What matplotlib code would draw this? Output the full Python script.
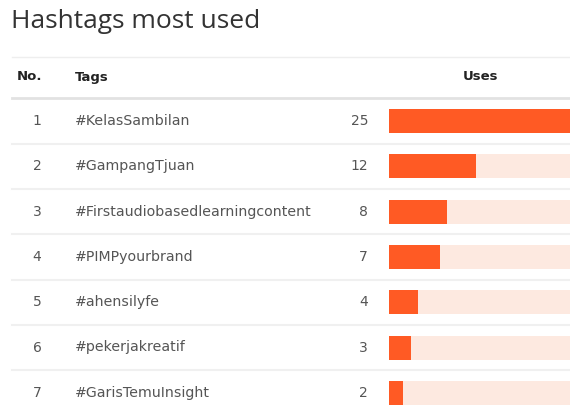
import matplotlib
matplotlib.use("Agg")
import matplotlib.pyplot as plt

ranks = [1, 2, 3, 4, 5, 6, 7]
tags = ["#KelasSambilan", "#GampangTjuan", "#Firstaudiobasedlearningcontent",
        "#PIMPyourbrand", "#ahensilyfe", "#pekerjakreatif", "#GarisTemuInsight"]
uses = [25, 12, 8, 7, 4, 3, 2]
max_uses = 25

W, H = 570, 409
fig = plt.figure(figsize=(W / 100, H / 100), dpi=100)
fig.patch.set_facecolor("white")

FONT = "DejaVu Sans"
row0, step = 121, 45.3

# background axes in pixel coordinates for text and rules
bg = fig.add_axes([0, 0, 1, 1])
bg.set_xlim(0, W)
bg.set_ylim(H, 0)
bg.axis("off")

bg.text(11, 21, "Hashtags most used", fontsize=19, color="#333333",
        family="Open Sans", va="center", ha="left")

bg.plot([12, W], [57, 57], color="#eeeeee", lw=1)
bg.plot([12, W], [98, 98], color="#e2e2e2", lw=2)
bg.text(17, 77, "No.", fontsize=9.5, fontweight="bold", color="#222222",
        family=FONT, va="center", ha="left")
bg.text(75, 77, "Tags", fontsize=9.5, fontweight="bold", color="#222222",
        family=FONT, va="center", ha="left")
bg.text(480, 77, "Uses", fontsize=9.5, fontweight="bold", color="#222222",
        family=FONT, va="center", ha="center")

for i, (r, t, u) in enumerate(zip(ranks, tags, uses)):
    y = row0 + step * i
    bg.text(37, y, str(r), fontsize=10, color="#555555", family=FONT,
            va="center", ha="center")
    bg.text(75, y, t, fontsize=10.2, color="#555555", family=FONT,
            va="center", ha="left")
    bg.text(368, y, str(u), fontsize=10, color="#555555", family=FONT,
            va="center", ha="right")
    if i < len(ranks) - 1:
        bg.plot([12, W], [y + step / 2, y + step / 2], color="#f0f0f0", lw=1.5)

# bar axes
x0 = 389
bx = fig.add_axes([x0 / W, 0, (W - x0) / W, 1])
bx.set_xlim(0, max_uses)
bx.set_ylim((H - row0) / step, -row0 / step)
bx.axis("off")
n = len(uses)
bx.barh(range(n), [max_uses] * n, height=24 / step, color="#fde9e0", lw=0)
bx.barh(range(n), uses, height=24 / step, color="#ff5a24", lw=0)

fig.savefig("out.png", dpi=100, facecolor="white")
